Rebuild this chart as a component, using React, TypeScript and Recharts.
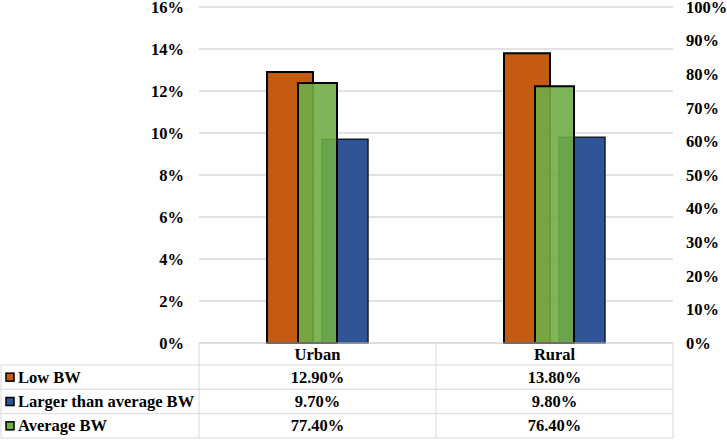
import React from 'react';
import { BarChart, Bar, XAxis, YAxis, CartesianGrid } from 'recharts';

// Birth-weight shares by place of residence
const areas = ['Urban', 'Rural'];
const lowBW = [12.9, 13.8];
const largerBW = [9.7, 9.8];
const averageBW = [77.4, 76.4];

const leftTicks = [0, 2, 4, 6, 8, 10, 12, 14, 16];
const rightTicks = [0, 10, 20, 30, 40, 50, 60, 70, 80, 90, 100];

const seriesRows = [
  { name: 'Low BW', color: '#C55A11', values: lowBW },
  { name: 'Larger than average BW', color: '#2F5597', values: largerBW },
  { name: 'Average BW', color: '#70AD47', values: averageBW },
];

const data = areas.map((area, i) => ({
  area,
  low: lowBW[i],
  larger: largerBW[i],
  average: averageBW[i],
}));

// Layout
const W = 727;
const H = 440;
const LEFT_AXIS_W = 60;
const RIGHT_AXIS_W = 54;
const MARGIN = { top: 7, right: 0, bottom: 75, left: 139 };
const HEADER_H = 22;
const PLOT_LEFT = MARGIN.left + LEFT_AXIS_W;
const PLOT_RIGHT = W - MARGIN.right - RIGHT_AXIS_W;
const PLOT_BOTTOM = H - MARGIN.bottom - HEADER_H;
const ROW_H = (H - 2 - PLOT_BOTTOM - HEADER_H) / seriesRows.length;

const FONT = "'Liberation Serif', 'Times New Roman', serif";
const GRID = '#d9d9d9';
const textStyle = { fontFamily: FONT, fontWeight: 700, fontSize: 16.5, fill: '#000' };

const pct = (v: number) => `${v}%`;

function DataTable() {
  const colW = (PLOT_RIGHT - PLOT_LEFT) / areas.length;
  const tableTop = PLOT_BOTTOM + HEADER_H;
  const tableBottom = tableTop + ROW_H * seriesRows.length;
  return (
    <svg
      width={W}
      height={H}
      style={{ position: 'absolute', left: 0, top: 0, pointerEvents: 'none' }}
    >
      {/* column dividers */}
      {Array.from({ length: areas.length + 1 }, (_, c) => (
        <line
          key={`c${c}`}
          x1={PLOT_LEFT + c * colW}
          x2={PLOT_LEFT + c * colW}
          y1={PLOT_BOTTOM}
          y2={tableBottom}
          stroke={GRID}
          strokeWidth={1}
        />
      ))}
      {/* left border of row labels */}
      <line x1={1} x2={1} y1={tableTop} y2={tableBottom} stroke={GRID} strokeWidth={1} />
      {/* row lines */}
      {Array.from({ length: seriesRows.length + 1 }, (_, r) => (
        <line
          key={`r${r}`}
          x1={1}
          x2={PLOT_RIGHT}
          y1={tableTop + r * ROW_H}
          y2={tableTop + r * ROW_H}
          stroke={GRID}
          strokeWidth={1}
        />
      ))}
      {seriesRows.map((s, r) => {
        const cy = tableTop + r * ROW_H + ROW_H / 2;
        return (
          <g key={s.name}>
            <rect x={6} y={cy - 4} width={8} height={8} fill={s.color} stroke="#000" strokeWidth={1.5} />
            <text x={18} y={cy} dominantBaseline="central" style={textStyle}>
              {s.name}
            </text>
            {s.values.map((v, c) => (
              <text
                key={c}
                x={PLOT_LEFT + c * colW + colW / 2}
                y={cy}
                textAnchor="middle"
                dominantBaseline="central"
                style={textStyle}
              >
                {`${v.toFixed(2)}%`}
              </text>
            ))}
          </g>
        );
      })}
    </svg>
  );
}

export default function App() {
  return (
    <div style={{ position: 'absolute', left: 0, top: 0, width: W, height: H, background: '#fff' }}>
      <BarChart width={W} height={H} data={data} margin={MARGIN} barGap={9}>
        <CartesianGrid
          xAxisId="a-main"
          yAxisId="left"
          vertical={false}
          stroke={GRID}
          strokeWidth={1.5}
        />
        <XAxis
          xAxisId="a-main"
          dataKey="area"
          height={HEADER_H}
          axisLine={{ stroke: GRID }}
          tickLine={false}
          tickSize={0}
          tickMargin={5}
          tick={textStyle}
          interval={0}
        />
        <XAxis xAxisId="b-avg" dataKey="area" hide height={0} />
        <YAxis
          yAxisId="left"
          orientation="left"
          width={LEFT_AXIS_W}
          domain={[0, 16]}
          ticks={leftTicks}
          tickFormatter={pct}
          axisLine={false}
          tickLine={false}
          tickMargin={9}
          tick={textStyle}
          interval={0}
        />
        <YAxis
          yAxisId="right"
          orientation="right"
          width={RIGHT_AXIS_W}
          domain={[0, 100]}
          ticks={rightTicks}
          tickFormatter={pct}
          axisLine={false}
          tickLine={false}
          tickMargin={7}
          tick={textStyle}
          interval={0}
        />
        <Bar
          xAxisId="a-main"
          yAxisId="left"
          dataKey="low"
          name="Low BW"
          fill="#C55A11"
          stroke="#000"
          strokeWidth={2}
          barSize={46}
          isAnimationActive={false}
        />
        <Bar
          xAxisId="a-main"
          yAxisId="left"
          dataKey="larger"
          name="Larger than average BW"
          fill="#2F5597"
          stroke="#1a1a2a"
          strokeWidth={1.5}
          barSize={46}
          isAnimationActive={false}
        />
        <Bar
          xAxisId="b-avg"
          yAxisId="right"
          dataKey="average"
          name="Average BW"
          fill="#70AD47"
          fillOpacity={0.9}
          stroke="#000"
          strokeWidth={2}
          barSize={39}
          isAnimationActive={false}
        />
      </BarChart>
      <DataTable />
    </div>
  );
}
